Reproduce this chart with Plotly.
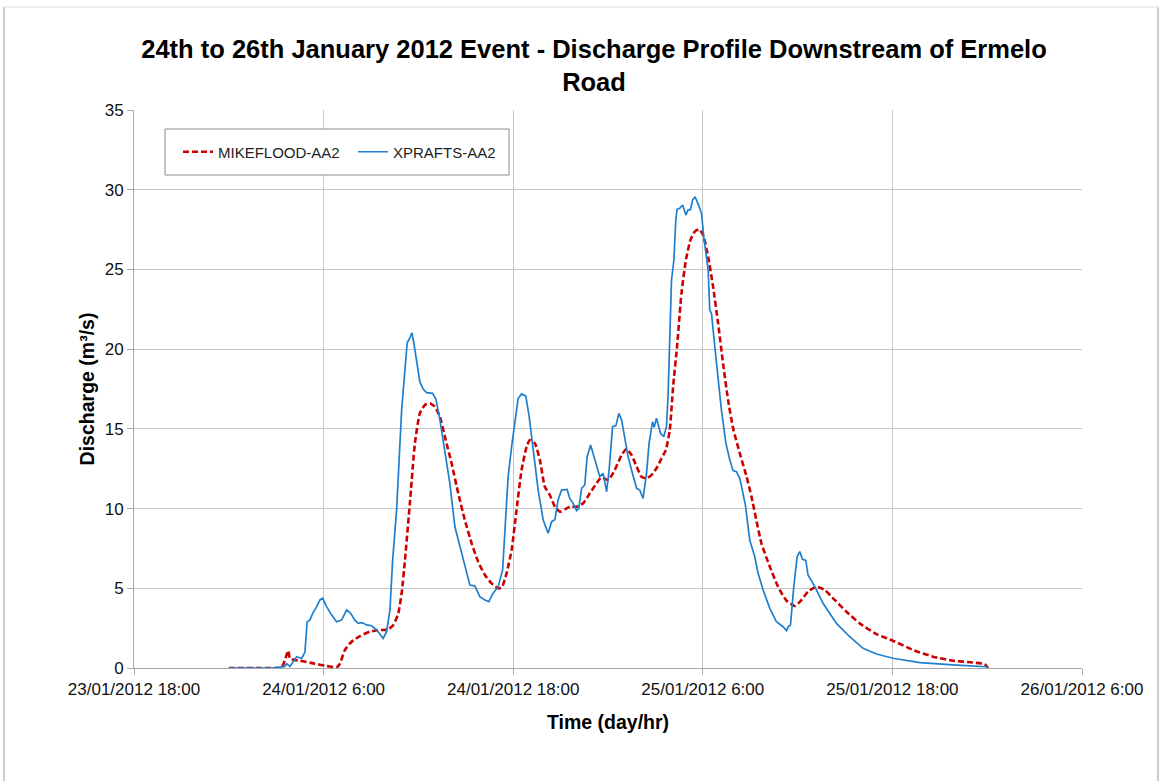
import pandas as pd
import plotly.graph_objects as go

# Hours elapsed since 24/01/2012 00:00 and discharge (m3/s) for each model
START = pd.Timestamp("2012-01-24 00:00")

xprafts_hours = [
    0.0, 2.7, 3.24, 3.55, 3.66, 3.87, 4.29, 4.61, 4.82, 4.96,
    5.13, 5.31, 5.56, 5.77, 5.94, 6.19, 6.51, 6.82, 7.14, 7.46,
    7.71, 7.98, 8.19, 8.43, 8.72, 9.04, 9.36, 9.77, 9.99, 10.2,
    10.37, 10.62, 10.94, 11.15, 11.29, 11.46, 11.59, 11.71, 11.89, 12.09,
    12.3, 12.52, 12.9, 13.11, 13.36, 13.68, 13.99, 14.31, 14.63, 14.94,
    15.26, 15.57, 15.89, 16.21, 16.46, 16.73, 17.05, 17.33, 17.58, 17.68,
    17.9, 18.11, 18.31, 18.53, 18.8, 19.01, 19.26, 19.58, 19.9, 20.21,
    20.43, 20.64, 20.84, 21.06, 21.41, 21.58, 21.79, 22.01, 22.15, 22.33,
    22.53, 22.68, 22.9, 23.06, 23.27, 23.48, 23.69, 23.91, 24.07, 24.29,
    24.5, 24.69, 24.86, 25.06, 25.27, 25.49, 25.81, 26.01, 26.22, 26.44,
    26.6, 26.82, 26.92, 27.07, 27.32, 27.53, 27.7, 27.8, 27.91, 28.02,
    28.17, 28.29, 28.37, 28.54, 28.72, 28.93, 29.07, 29.22, 29.35, 29.51,
    29.77, 29.92, 30.06, 30.23, 30.34, 30.44, 30.55, 30.76, 30.97, 31.18,
    31.46, 31.71, 31.92, 32.13, 32.34, 32.7, 32.97, 33.29, 33.5, 33.82,
    34.24, 34.66, 35.08, 35.3, 35.41, 35.55, 35.76, 35.97, 36.14, 36.31,
    36.52, 36.66, 37.09, 37.61, 38.46, 39.3, 40.14, 40.99, 42.04, 43.73,
    45.84, 47.95, 48.0,
]
xprafts_q = [
    0, 0, 0.05, 0.1, 0.27, 0.1, 0.71, 0.6, 1.0, 2.9,
    3.0, 3.43, 3.85, 4.27, 4.37, 3.85, 3.32, 2.9, 3.0, 3.64,
    3.43, 3.0, 2.8, 2.85, 2.7, 2.65, 2.38, 1.86, 2.28, 3.64,
    6.77, 9.9, 16.2, 19.1, 20.4, 20.7, 21.03, 20.4, 19.3, 17.96,
    17.5, 17.27, 17.23, 16.85, 15.56, 13.67, 11.58, 8.86, 7.61, 6.57,
    5.2, 5.15, 4.47, 4.27, 4.16, 4.69, 5.1, 6.15, 9.9, 12.0,
    13.88, 15.56, 16.9, 17.19, 17.06, 15.77, 13.67, 11.16, 9.28, 8.45,
    9.18, 9.3, 10.54, 11.16, 11.2, 10.64, 10.33, 9.87, 10.0, 11.27,
    11.48, 13.26, 13.99, 13.47, 12.73, 12.0, 12.21, 11.06, 12.42, 15.14,
    15.2, 15.97, 15.56, 14.51, 13.26, 12.42, 11.27, 11.16, 10.64, 12.21,
    14.1, 15.45, 15.1, 15.66, 14.72, 14.51, 15.14, 17.02, 21.2, 24.34,
    25.59, 28.1, 28.77, 28.83, 29.04, 28.41, 28.73, 28.75, 29.35, 29.56,
    28.94, 28.52, 27.05, 25.59, 24.96, 22.45, 22.25, 20.15, 18.07, 16.18,
    14.1, 13.05, 12.38, 12.31, 11.9, 10.2, 8.03, 6.98, 5.94, 4.89,
    3.74, 2.9, 2.59, 2.34, 2.6, 2.7, 5.1, 6.98, 7.3, 6.82,
    6.75, 5.83, 5.1, 4.06, 2.8, 1.96, 1.23, 0.88, 0.61, 0.34,
    0.19, 0.08, 0.0,
]

mikeflood_hours = [
    0.0, 2.92, 3.36, 3.55, 3.76, 3.87, 4.19, 4.5, 5.34, 6.19,
    6.82, 7.03, 7.35, 7.77, 8.3, 8.93, 9.56, 10.09, 10.41, 10.72,
    10.94, 11.15, 11.46, 11.78, 12.09, 12.41, 12.73, 13.04, 13.36, 13.68,
    14.1, 14.52, 14.94, 15.37, 15.78, 16.21, 16.63, 17.05, 17.28, 17.58,
    17.9, 18.21, 18.53, 18.85, 19.05, 19.37, 19.69, 20.0, 20.32, 20.64,
    20.95, 21.27, 21.58, 22.01, 22.43, 22.85, 23.27, 23.59, 24.01, 24.43,
    24.86, 25.17, 25.49, 25.81, 26.12, 26.44, 26.75, 27.07, 27.39, 27.66,
    27.91, 28.12, 28.37, 28.65, 28.93, 29.22, 29.49, 29.77, 30.02, 30.34,
    30.65, 30.97, 31.28, 31.6, 31.92, 32.34, 32.77, 33.08, 33.71, 34.24,
    34.76, 35.3, 35.82, 36.25, 36.66, 37.19, 37.72, 38.35, 39.09, 39.93,
    40.99, 42.04, 43.31, 44.57, 45.84, 47.1, 47.84, 48.05,
]
mikeflood_q = [
    0, 0, 0.05, 0.5, 1.09, 0.6, 0.5, 0.46, 0.29, 0.13,
    0.04, 0.27, 1.13, 1.65, 2.0, 2.28, 2.38, 2.42, 2.7, 3.4,
    4.69, 6.77, 10.33, 14.1, 15.97, 16.5, 16.6, 16.39, 15.77, 14.5,
    12.84, 10.96, 9.28, 7.82, 6.67, 5.83, 5.31, 5.0, 5.05, 5.94,
    7.4, 9.9, 12.42, 13.88, 14.3, 14.1, 13.05, 11.37, 10.85, 10.12,
    9.8, 9.95, 10.12, 10.12, 10.33, 10.96, 11.58, 11.96, 11.79, 12.42,
    13.36, 13.74, 13.36, 12.63, 12.0, 11.9, 12.1, 12.53, 13.15, 13.67,
    14.93, 17.64, 20.15, 23.5, 25.59, 26.85, 27.37, 27.51, 27.16, 25.8,
    23.92, 21.62, 19.11, 16.81, 15.03, 13.47, 12.0, 10.75, 7.82, 6.36,
    5.1, 4.22, 3.89, 4.27, 4.79, 5.1, 4.89, 4.27, 3.53, 2.8,
    2.13, 1.71, 1.13, 0.71, 0.46, 0.34, 0.25, 0.0,
]

tick_times = ["2012-01-23 18:00", "2012-01-24 06:00", "2012-01-24 18:00",
              "2012-01-25 06:00", "2012-01-25 18:00", "2012-01-26 06:00"]
tick_labels = ["23/01/2012 18:00", "24/01/2012 6:00", "24/01/2012 18:00",
               "25/01/2012 6:00", "25/01/2012 18:00", "26/01/2012 6:00"]


def to_time(hours):
    return START + pd.to_timedelta(hours, unit="h")


FONT = "Liberation Sans, Arial, sans-serif"
GRID = "#C6C6C6"

fig = go.Figure()
fig.add_trace(go.Scatter(
    x=to_time(mikeflood_hours), y=mikeflood_q, name="MIKEFLOOD-AA2",
    mode="lines", line=dict(color="#CC0000", width=2.6, dash="6px,3px",
                            shape="spline", smoothing=0.5),
))
fig.add_trace(go.Scatter(
    x=to_time(xprafts_hours), y=xprafts_q, name="XPRAFTS-AA2",
    mode="lines", line=dict(color="#1F7FCF", width=1.7),
))

W, H = 1160, 781
L, R, T, B = 134, 78, 110, 113
pw, ph = W - L - R, H - T - B


def px(xp):
    return (xp - L) / pw


def py(yp):
    return (H - B - yp) / ph


fig.update_layout(
    width=W, height=H,
    margin=dict(l=L, r=R, t=T, b=B, autoexpand=False),
    paper_bgcolor="white", plot_bgcolor="white",
    font=dict(family=FONT, color="#1A1A1A"),
    title=dict(
        text="<b>24th to 26th January 2012 Event - Discharge Profile Downstream of Ermelo<br>Road</b>",
        font=dict(size=25.5, color="black"),
        x=594 / W, xref="container", xanchor="center",
        y=1 - 58 / H, yref="container", yanchor="top",
    ),
    showlegend=True,
    legend=dict(
        orientation="h", x=px(178), y=py(152), xanchor="left", yanchor="middle",
        bgcolor="rgba(0,0,0,0)", borderwidth=0,
        font=dict(size=15, color="#222222"),
        entrywidth=130, entrywidthmode="pixels",
    ),
    shapes=[
        # legend frame
        dict(type="rect", xref="paper", yref="paper",
             x0=px(165), x1=px(509), y0=py(175), y1=py(129),
             line=dict(color="#8C8C8C", width=1), fillcolor="white", layer="above"),
        # outer chart frame
        dict(type="line", xref="paper", yref="paper",
             x0=px(4), x1=px(4), y0=py(7), y1=py(800),
             line=dict(color="#9A9A9A", width=1)),
        dict(type="line", xref="paper", yref="paper",
             x0=px(1158), x1=px(1158), y0=py(7), y1=py(800),
             line=dict(color="#9A9A9A", width=1)),
        dict(type="line", xref="paper", yref="paper",
             x0=px(4), x1=px(1158), y0=py(7), y1=py(7),
             line=dict(color="#DDDDDD", width=1)),
    ],
)

fig.update_xaxes(
    type="date", range=[tick_times[0], tick_times[-1]],
    tickvals=tick_times, ticktext=tick_labels,
    showgrid=True, gridcolor=GRID, gridwidth=1,
    showline=True, linecolor="#A8A8A8", linewidth=1,
    ticks="outside", ticklen=6, tickcolor="#A8A8A8",
    tickfont=dict(size=17, color="#111111"),
    title=dict(text="<b>Time (day/hr)</b>", font=dict(size=19.5, color="black"), standoff=16),
    zeroline=False,
)
fig.update_yaxes(
    range=[0, 35], dtick=5, tick0=0,
    showgrid=True, gridcolor=GRID, gridwidth=1,
    showline=True, linecolor="#A8A8A8", linewidth=1,
    ticks="outside", ticklen=6, tickcolor="#A8A8A8",
    tickfont=dict(size=17, color="#111111"),
    title=dict(text="<b>Discharge (m³/s)</b>", font=dict(size=19.5, color="black"), standoff=4),
    zeroline=False,
)

fig.write_html("out.html")
